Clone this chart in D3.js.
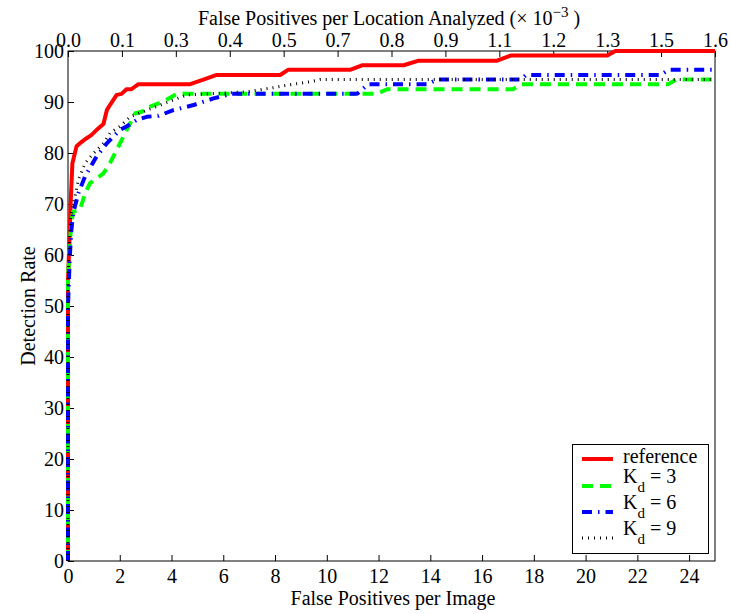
<!DOCTYPE html>
<html>
<head>
<meta charset="utf-8">
<script src="https://cdn.jsdelivr.net/npm/d3@7"></script>
<style>
  html, body { margin: 0; padding: 0; background: #fff; }
  svg { display: block; }
  svg text { font-family: "Liberation Serif", "Times New Roman", "DejaVu Serif", serif; fill: #000; }
</style>
</head>
<body>
<svg id="chart" width="730" height="614"></svg>
<script>
// ---- data ----
const refX = [0, 0, 0.05, 0.1, 0.17, 0.33, 0.53, 0.72, 0.9, 1.1, 1.37, 1.5, 1.62, 1.88, 2.07, 2.26, 2.45, 2.72, 4.72, 5.23, 5.75, 8.2, 8.5, 10.9, 11.36, 12.97, 13.55, 16.58, 17.1, 20.84, 21.15, 25];
const refY = [0, 55, 62, 70, 78, 81.3, 82.2, 82.9, 83.5, 84.5, 85.7, 88.4, 89.4, 91.4, 91.6, 92.5, 92.5, 93.5, 93.5, 94.4, 95.3, 95.3, 96.3, 96.3, 97.2, 97.2, 98.1, 98.1, 99.1, 99.1, 100, 100];

const k3X = [0, 0, 0.07, 0.13, 0.2, 0.46, 0.66, 0.85, 1.1, 1.37, 1.62, 1.88, 2.14, 2.4, 2.6, 2.85, 3.17, 3.69, 4.2, 11.94, 12.33, 17.2, 17.5, 23.2, 23.5, 25];
const k3Y = [0, 55, 62.3, 66.3, 68.5, 68.8, 72.1, 74.1, 75, 76, 78, 80.6, 83.2, 85.8, 87.8, 88.1, 89.1, 90.1, 91.6, 91.6, 92.5, 92.5, 93.5, 93.5, 94.4, 94.4];

const k6X = [0, 0, 0.07, 0.13, 0.2, 0.4, 0.66, 1.1, 1.5, 2.0, 2.26, 2.66, 3.04, 3.5, 4.07, 4.85, 5.62, 6.3, 11.17, 11.6, 13.9, 14.26, 17.5, 17.7, 22.9, 23.2, 25];
const k6Y = [0, 50, 59.7, 64.9, 68.2, 72.1, 75.4, 79.3, 81.9, 84.5, 85.2, 86.5, 87.1, 87.3, 88.4, 89.4, 90.7, 91.6, 91.6, 93.5, 93.5, 94.4, 94.4, 95.3, 95.3, 96.3, 96.3];

const k9X = [0, 0, 0.1, 0.27, 0.4, 0.66, 0.98, 1.37, 1.62, 2.0, 2.4, 3.04, 3.56, 4.07, 4.6, 5.4, 6.9, 7.8, 8.6, 9.4, 9.75, 25];
const k9Y = [0, 55, 67.5, 71.4, 74.7, 78, 79.9, 81.9, 83.9, 85.2, 87.1, 88.4, 89.4, 90.4, 91.4, 91.6, 92.0, 92.7, 93.4, 94.0, 94.4, 94.4];

const xTicks = [0, 2, 4, 6, 8, 10, 12, 14, 16, 18, 20, 22, 24];
const yTicks = [0, 10, 20, 30, 40, 50, 60, 70, 80, 90, 100];
const topTicks = d3.range(13).map(i => i * 1.6 / 12);

const seriesNames = ["reference", "K_d = 3", "K_d = 6", "K_d = 9"];

// ---- layout ----
const FONT = "'Liberation Serif', 'Times New Roman', serif";
const L = 68, R = 715, T = 51, B = 561;
const svg = d3.select("#chart");
const x = d3.scaleLinear().domain([0, 25]).range([L, R]);
const xTop = d3.scaleLinear().domain([0, 1.6]).range([L, R]);
const y = d3.scaleLinear().domain([0, 100]).range([B, T]);

const series = [
  { xs: refX, ys: refY, color: "#ff0000", width: 4, dash: null },
  { xs: k3X, ys: k3Y, color: "#00ff00", width: 4, dash: "11,7" },
  { xs: k6X, ys: k6Y, color: "#0000ff", width: 4, dash: "10,6,1.5,6" },
  { xs: k9X, ys: k9Y, color: "#000000", width: 3, dash: "1,5" }
];

// ---- axes ----
const fs = 20;
const gBottom = svg.append("g").attr("transform", `translate(0,${B})`)
  .call(d3.axisBottom(x).tickValues(xTicks).tickSizeInner(-6).tickSizeOuter(0).tickPadding(8).tickFormat(d3.format("d")));
const gTop = svg.append("g").attr("transform", `translate(0,${T})`)
  .call(d3.axisTop(xTop).tickValues(topTicks).tickSizeInner(-6).tickSizeOuter(0).tickPadding(4.5).tickFormat(d3.format(".1f")));
const gLeft = svg.append("g").attr("transform", `translate(${L},0)`)
  .call(d3.axisLeft(y).tickValues(yTicks).tickSizeInner(-6).tickSizeOuter(0).tickPadding(4).tickFormat(d3.format("d")));

[gBottom, gTop, gLeft].forEach(g => {
  g.attr("font-family", null).attr("font-size", null);
  g.selectAll("text").style("font-family", FONT).style("font-size", fs + "px").attr("fill", "#000");
  g.selectAll("line").attr("stroke", "#000");
  g.select(".domain").remove();
});

// box
svg.append("rect").attr("x", L).attr("y", T).attr("width", R - L).attr("height", B - T)
  .attr("fill", "none").attr("stroke", "#000").attr("stroke-width", 1);

// ---- lines ----
const lineGen = d3.line().x(d => x(d[0])).y(d => y(d[1]));
series.forEach(s => {
  const pts = s.xs.map((v, i) => [v, s.ys[i]]);
  svg.append("path").datum(pts)
    .attr("d", lineGen)
    .attr("fill", "none")
    .attr("stroke", s.color)
    .attr("stroke-width", s.width)
    .attr("stroke-linejoin", "round")
    .attr("stroke-dasharray", s.dash);
});

// ---- labels ----
function txt(sel) { return sel.style("font-family", FONT).style("font-size", fs + "px"); }

txt(svg.append("text")).attr("x", 393).attr("y", 605).attr("text-anchor", "middle")
  .text("False Positives per Image");

txt(svg.append("text")).attr("transform", `translate(35,${(T + B) / 2}) rotate(-90)`)
  .attr("text-anchor", "middle").text("Detection Rate");

const tt = txt(svg.append("text")).attr("x", 389).attr("y", 25).attr("text-anchor", "middle");
tt.append("tspan").text("False Positives per Location Analyzed (\u00d7 10");
tt.append("tspan").attr("dy", -8).style("font-size", "15px").text("\u22123");
tt.append("tspan").attr("dy", 8).text(" )");

// ---- legend ----
const lg = svg.append("g");
lg.append("rect").attr("x", 572.5).attr("y", 444.5).attr("width", 136).attr("height", 109)
  .attr("fill", "#fff").attr("stroke", "#000").attr("stroke-width", 1);
const rowsY = [459, 486, 512, 538];
series.forEach((s, i) => {
  const ry = rowsY[i];
  lg.append("line").attr("x1", 582).attr("x2", 613).attr("y1", ry).attr("y2", ry)
    .attr("stroke", s.color).attr("stroke-width", s.width).attr("stroke-dasharray", s.dash);
  const name = seriesNames[i];
  if (name.startsWith("K_d")) {
    const t = txt(lg.append("text")).attr("x", 623).attr("y", ry - 2.7);
    t.append("tspan").text("K");
    t.append("tspan").attr("dy", 8.4).style("font-size", "15px").text("d");
    t.append("tspan").attr("dy", -8.4).text(" " + name.slice(4));
  } else {
    txt(lg.append("text")).attr("x", 623).attr("y", ry + 4).text(name);
  }
});
</script>
</body>
</html>
